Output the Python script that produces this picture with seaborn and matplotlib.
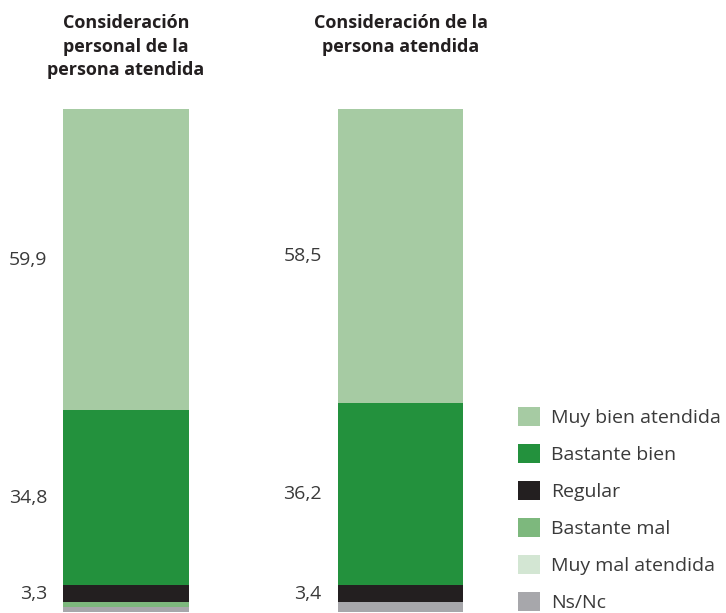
import pandas as pd
import numpy as np
import seaborn as sns
import matplotlib.pyplot as plt

grupos = ["Consideración\npersonal de la\npersona atendida", "Consideración de la\npersona atendida"]
categorias = ["Ns/Nc", "Muy mal atendida", "Bastante mal", "Regular", "Bastante bien", "Muy bien atendida"]
colores = ["#a7a7ab", "#d3e6d3", "#7db87d", "#231f20", "#23913d", "#a6cba3"]
personal = [1.0, 0.0, 1.0, 3.3, 34.8, 59.9]
persona = [1.9, 0.0, 0.0, 3.4, 36.2, 58.5]

sns.set_style("white")
plt.rcParams['font.family'] = ['Open Sans', 'DejaVu Sans']

df = pd.DataFrame({"grupo": np.repeat(["g1", "g2"], len(categorias)),
                   "cat": categorias * 2,
                   "valor": personal + persona})
df["cum"] = df.groupby("grupo")["valor"].cumsum()

fig = plt.figure(figsize=(7.26, 6.13), dpi=100)
ax = fig.add_axes([0, 1 - 612 / 613, 500 / 726, (612 - 109) / 613])

# pintar de arriba abajo para simular apilado
for cat, col in zip(categorias[::-1], colores[::-1]):
    sub = df[df["cat"] == cat]
    sns.barplot(data=sub, x="grupo", y="cum", color=col, width=0.459,
                saturation=1, label=cat, ax=ax, errorbar=None, linewidth=0)

ax.set_xlim(-126 / 274.5, (500 - 126) / 274.5)
ax.set_ylim(0, 100)
ax.set_axis_off()
h, l = ax.get_legend_handles_labels()
if ax.get_legend() is not None:
    ax.get_legend().remove()

for i, vals in enumerate([personal, persona]):
    base = 0
    for v in vals:
        if v >= 3:
            ax.text(i - 0.287, base + v / 2, f"{v:.1f}".replace(".", ","),
                    ha="right", va="center", fontsize=14, color="#3a3a3a")
        base += v

for x, g in zip([126, 401], grupos):
    fig.text(x / 726, 1 - 14 / 613, g, ha="center", va="top", fontsize=13,
             fontweight="bold", color="#231f20", linespacing=1.4)

fig.legend(h, l, loc="lower left", bbox_to_anchor=(518 / 726, 1 / 613), frameon=False,
           fontsize=14, handlelength=1.15, handleheight=1.15, labelspacing=0.86,
           handletextpad=0.55, borderaxespad=0, borderpad=0, labelcolor="#3a3a3a")

fig.savefig("out.png", dpi=100)
